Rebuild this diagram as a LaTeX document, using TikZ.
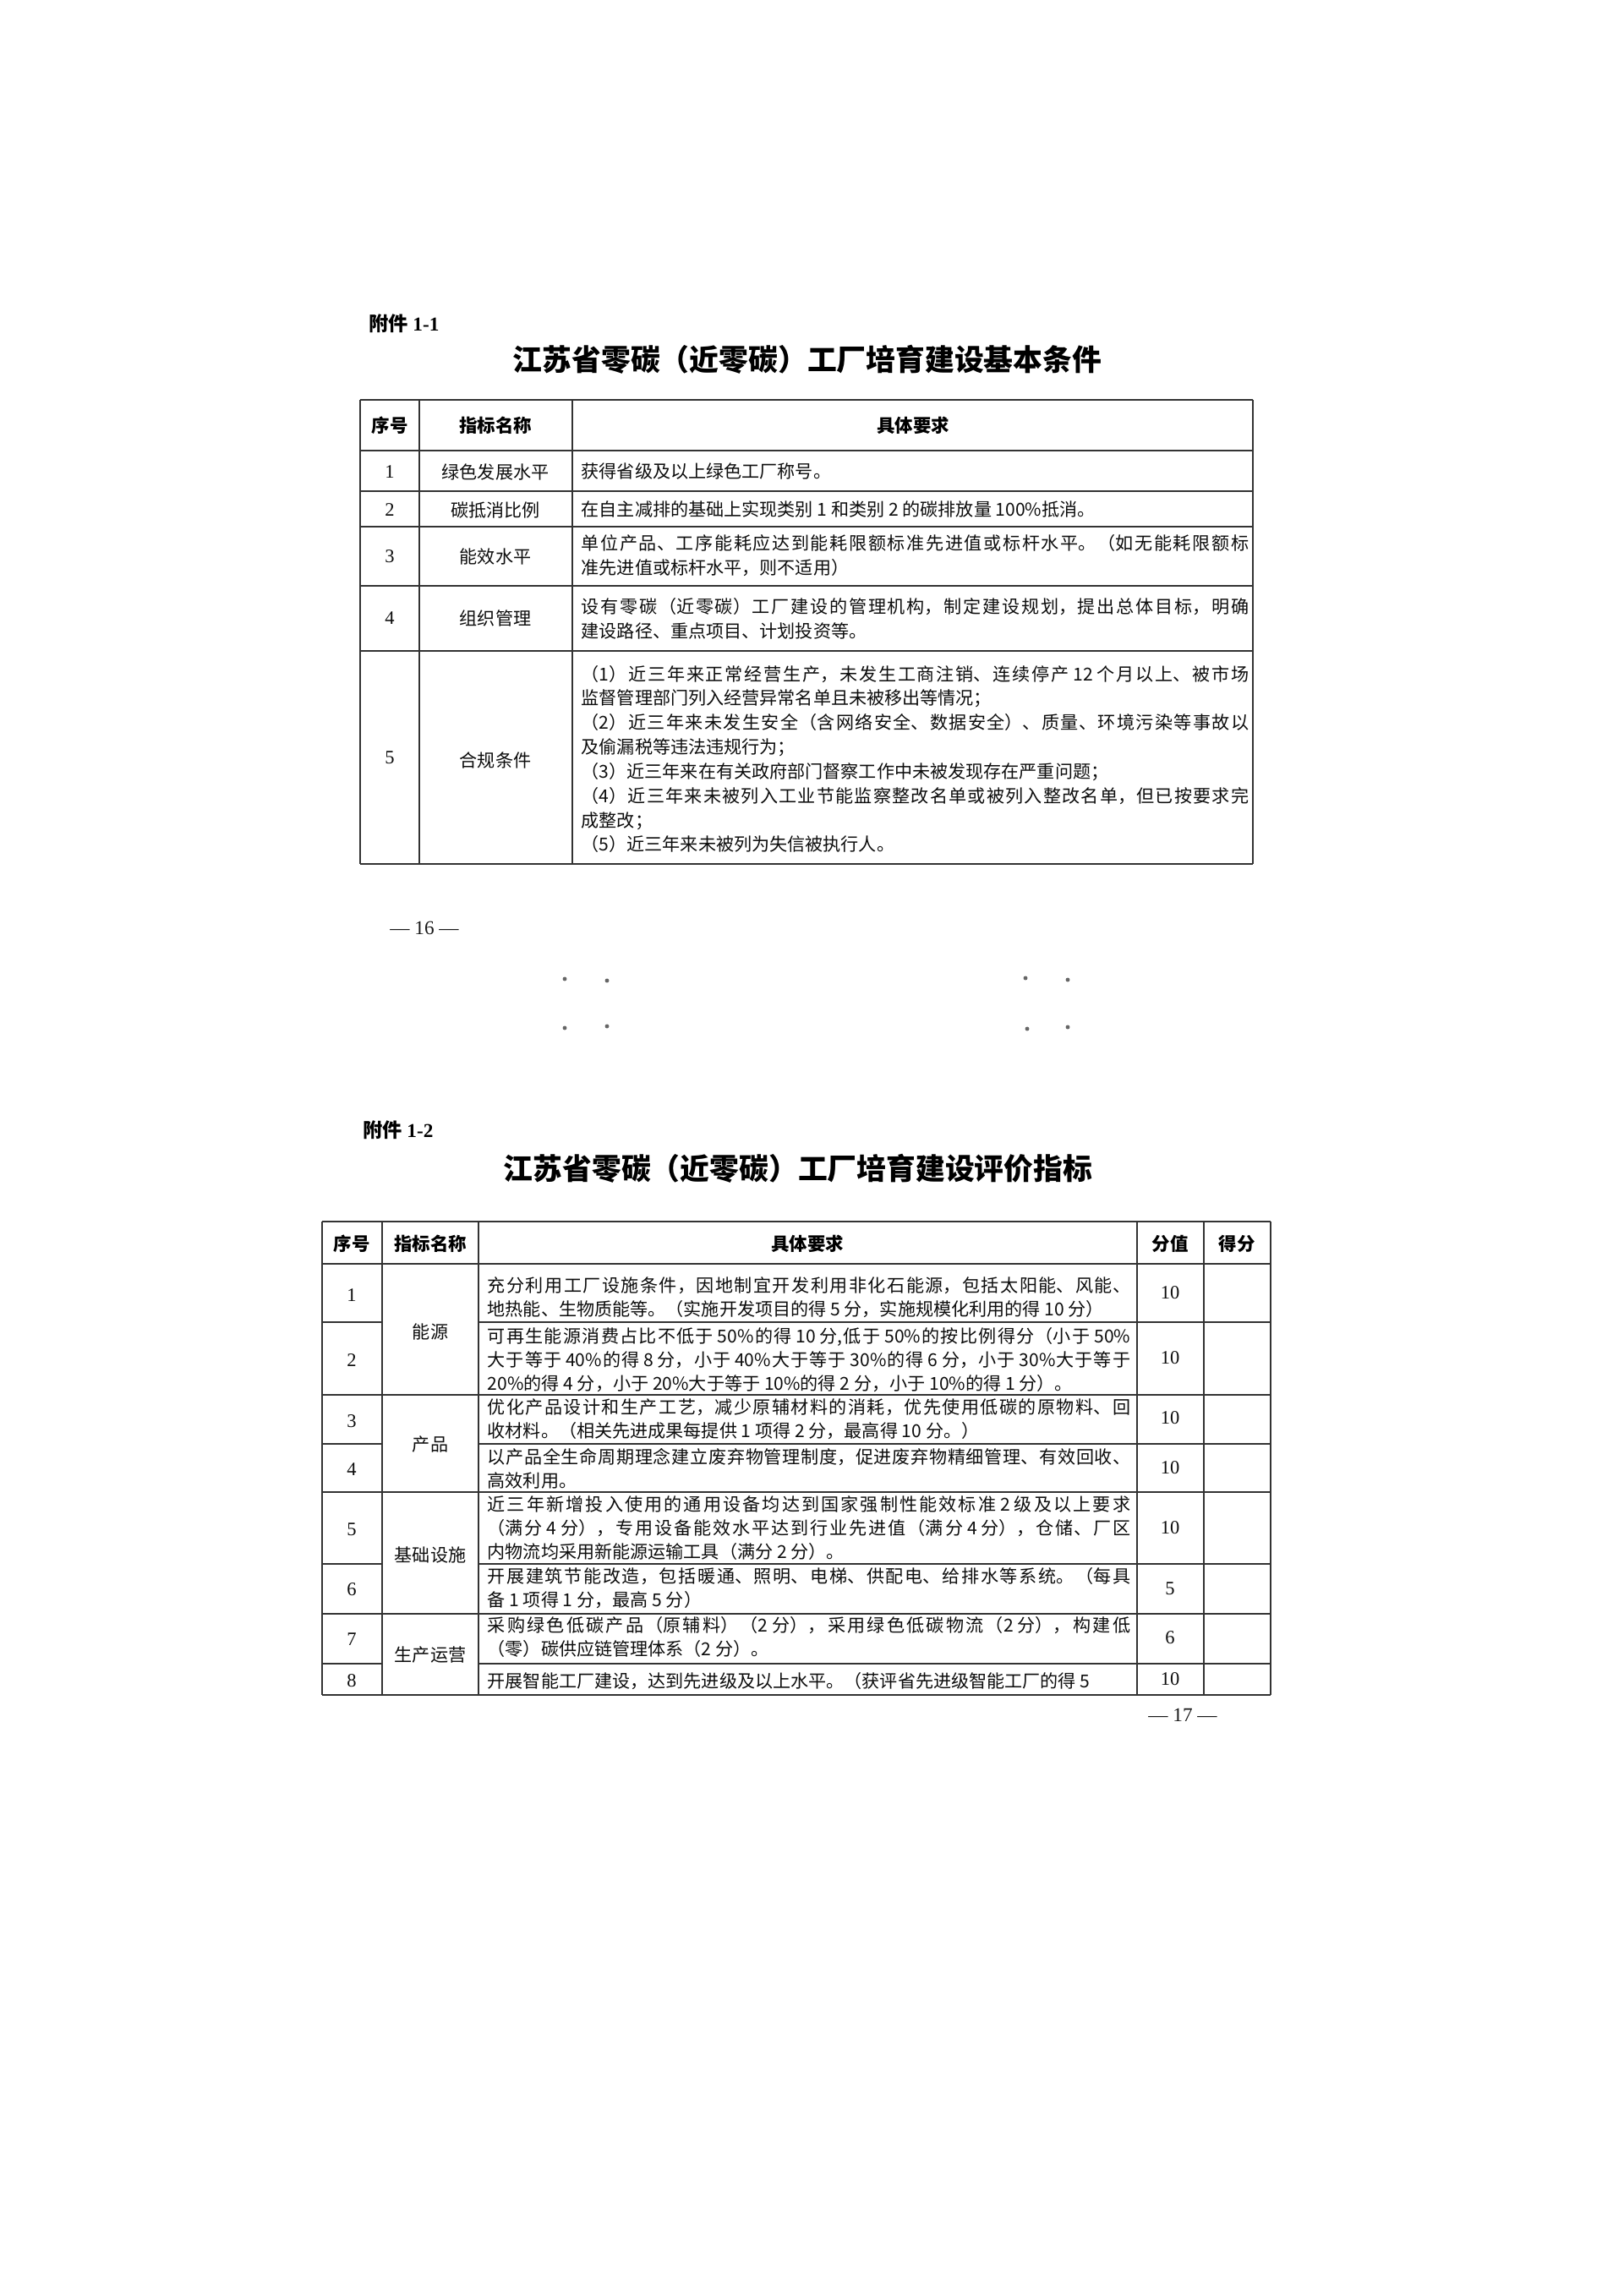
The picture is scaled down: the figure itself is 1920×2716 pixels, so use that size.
\documentclass[tikz,border=0pt]{standalone}
\usepackage{fontspec}
\newfontfamily\cjk{Noto Sans CJK SC}
\newfontfamily\tnr{Liberation Serif}
\XeTeXlinebreaklocale "zh"
\XeTeXlinebreakskip=0pt plus 6pt
\tolerance=9999
\hbadness=10000
\emergencystretch=0pt
\begin{document}
\begin{tikzpicture}[x=0.01cm,y=-0.01cm,
  rule/.style={draw=black!80, line width=0.026cm},
  txt/.style={inner sep=0pt, text=black!95, font=\cjk\fontsize{6pt}{8.2pt}\selectfont},
  hdr/.style={inner sep=0pt, text=black, font=\cjk\bfseries\fontsize{6.1pt}{8pt}\selectfont},
  numA/.style={inner sep=0pt, text=black!95, font=\tnr\fontsize{6.4pt}{8pt}\selectfont},
  paraA/.style={txt, anchor=base west, align=justify, text width=7.89cm},
  paraB/.style={inner sep=0pt, text=black!95, font=\cjk\fontsize{6pt}{8pt}\selectfont, anchor=base west, align=justify, text width=7.6cm},
  ttl/.style={inner sep=0pt, text=black, font=\cjk\bfseries\fontsize{9.9pt}{12pt}\selectfont},
  annex/.style={inner sep=0pt, anchor=base west, text=black, font=\cjk\bfseries\fontsize{6.6pt}{8pt}\selectfont},
  pgno/.style={inner sep=0pt, text=black!90, font=\tnr\fontsize{6.6pt}{8pt}\selectfont},
  dotm/.style={fill=black!60, draw=none}
]
\fill[white] (0,0) rectangle (1920,2716);
\useasboundingbox (0,0) rectangle (1920,2716);

% ---------------- Annex 1-1 ----------------
\node[annex] (ax1) at (436,392) {附件 {\tnr 1-1}};
\node[ttl] (t1) at (955,425) {江苏省零碳（近零碳）工厂培育建设基本条件};

% grid table 1
\foreach \yy in {473,533,581,623,693,770,1022} \draw[rule] (426,\yy) -- (1482,\yy);
\foreach \xx in {426,496,677,1482} \draw[rule] (\xx,473) -- (\xx,1022);

\node[hdr] (a-h1) at (461,503) {序号};
\node[hdr] (a-h2) at (586,503) {指标名称};
\node[hdr] (a-h3) at (1080,503) {具体要求};

\node[numA] (a-n1) at (461,558) {1};
\node[numA] (a-n2) at (461,603) {2};
\node[numA] (a-n3) at (461,658) {3};
\node[numA] (a-n4) at (461,731) {4};
\node[numA] (a-n5) at (461,896) {5};

\node[txt] (a-l1) at (586,558) {绿色发展水平};
\node[txt] (a-l2) at (586,603) {碳抵消比例};
\node[txt] (a-l3) at (586,658) {能效水平};
\node[txt] (a-l4) at (586,731) {组织管理};
\node[txt] (a-l5) at (586,899) {合规条件};

\node[paraA] (a-r1) at (687,566) {获得省级及以上绿色工厂称号。};
\node[paraA] (a-r2) at (687,611) {在自主减排的基础上实现类别 1 和类别 2 的碳排放量 100\%抵消。};
\node[paraA] (a-r3) at (687,651) {单位产品、工序能耗应达到能耗限额标准先进值或标杆水平。（如无能耗限额标\linebreak 准先进值或标杆水平，则不适用）};
\node[paraA] (a-r4) at (687,726) {设有零碳（近零碳）工厂建设的管理机构，制定建设规划，提出总体目标，明确\linebreak 建设路径、重点项目、计划投资等。};
\node[paraA] (a-r5) at (687,805) {（1）近三年来正常经营生产，未发生工商注销、连续停产 12 个月以上、被市场\linebreak 监督管理部门列入经营异常名单且未被移出等情况；\par （2）近三年来未发生安全（含网络安全、数据安全）、质量、环境污染等事故以\linebreak 及偷漏税等违法违规行为；\par （3）近三年来在有关政府部门督察工作中未被发现存在严重问题；\par （4）近三年来未被列入工业节能监察整改名单或被列入整改名单，但已按要求完\linebreak 成整改；\par （5）近三年来未被列为失信被执行人。};

\node[pgno] (p16) at (502,1098) {— 16 —};

% scan dots
\fill[dotm] (668,1158) circle[radius=0.7pt];
\fill[dotm] (718,1160) circle[radius=0.7pt];
\fill[dotm] (1213,1157) circle[radius=0.7pt];
\fill[dotm] (1263,1159) circle[radius=0.7pt];
\fill[dotm] (668,1216) circle[radius=0.7pt];
\fill[dotm] (718,1214) circle[radius=0.7pt];
\fill[dotm] (1215,1217) circle[radius=0.7pt];
\fill[dotm] (1263,1215) circle[radius=0.7pt];

% ---------------- Annex 1-2 ----------------
\node[annex] (ax2) at (429,1345) {附件 {\tnr 1-2}};
\node[ttl] (t2) at (944,1382) {江苏省零碳（近零碳）工厂培育建设评价指标};

% grid table 2
\foreach \yy in {1445,1495,1650,1765,1909,2005} \draw[rule] (381,\yy) -- (1503,\yy);
\foreach \yy in {1564,1708,1850,1968} {
  \draw[rule] (381,\yy) -- (452,\yy);
  \draw[rule] (566,\yy) -- (1503,\yy);
}
\foreach \xx in {381,452,566,1345,1424,1503} \draw[rule] (\xx,1445) -- (\xx,2005);

\node[hdr] (b-h1) at (416,1471) {序号};
\node[hdr] (b-h2) at (509,1471) {指标名称};
\node[hdr] (b-h3) at (955,1471) {具体要求};
\node[hdr] (b-h4) at (1384,1471) {分值};
\node[hdr] (b-h5) at (1463,1471) {得分};

\node[numA] (b-n1) at (416,1532) {1};
\node[numA] (b-n2) at (416,1609) {2};
\node[numA] (b-n3) at (416,1681) {3};
\node[numA] (b-n4) at (416,1738) {4};
\node[numA] (b-n5) at (416,1809) {5};
\node[numA] (b-n6) at (416,1880) {6};
\node[numA] (b-n7) at (416,1939) {7};
\node[numA] (b-n8) at (416,1988) {8};

\node[txt] (b-g1) at (509,1575) {能源};
\node[txt] (b-g2) at (509,1709) {产品};
\node[txt] (b-g3) at (509,1839) {基础设施};
\node[txt] (b-g4) at (509,1958) {生产运营};

\node[paraB] (b-r1) at (576,1528) {\parfillskip=0pt 充分利用工厂设施条件，因地制宜开发利用非化石能源，包括太阳能、风能、\linebreak 地热能、生物质能等。（实施开发项目的得 5 分，实施规模化利用的得 10 分）};
\node[paraB] (b-r2) at (576,1588) {可再生能源消费占比不低于 50\%的得 10 分,低于 50\%的按比例得分（小于 50\%\linebreak 大于等于 40\%的得 8 分，小于 40\%大于等于 30\%的得 6 分，小于 30\%大于等于\linebreak 20\%的得 4 分，小于 20\%大于等于 10\%的得 2 分，小于 10\%的得 1 分）。};
\node[paraB] (b-r3) at (576,1672) {优化产品设计和生产工艺，减少原辅材料的消耗，优先使用低碳的原物料、回\linebreak 收材料。（相关先进成果每提供 1 项得 2 分，最高得 10 分。）};
\node[paraB] (b-r4) at (576,1731) {以产品全生命周期理念建立废弃物管理制度，促进废弃物精细管理、有效回收、\linebreak 高效利用。};
\node[paraB] (b-r5) at (576,1787) {近三年新增投入使用的通用设备均达到国家强制性能效标准 2 级及以上要求\linebreak （满分 4 分），专用设备能效水平达到行业先进值（满分 4 分），仓储、厂区\linebreak 内物流均采用新能源运输工具（满分 2 分）。};
\node[paraB] (b-r6) at (576,1872) {开展建筑节能改造，包括暖通、照明、电梯、供配电、给排水等系统。（每具\linebreak 备 1 项得 1 分，最高 5 分）};
\node[paraB] (b-r7) at (576,1930) {采购绿色低碳产品（原辅料）（2 分），采用绿色低碳物流（2 分），构建低\linebreak （零）碳供应链管理体系（2 分）。};
\node[paraB] (b-r8) at (576,1996) {\parfillskip=0pt 开展智能工厂建设，达到先进级及以上水平。（获评省先进级智能工厂的得 5};

\node[numA] (b-s1) at (1384,1529) {10};
\node[numA] (b-s2) at (1384,1606) {10};
\node[numA] (b-s3) at (1384,1677) {10};
\node[numA] (b-s4) at (1384,1736) {10};
\node[numA] (b-s5) at (1384,1807) {10};
\node[numA] (b-s6) at (1384,1879) {5};
\node[numA] (b-s7) at (1384,1937) {6};
\node[numA] (b-s8) at (1384,1986) {10};

\node[pgno] (p17) at (1399,2029) {— 17 —};
\end{tikzpicture}
\end{document}
